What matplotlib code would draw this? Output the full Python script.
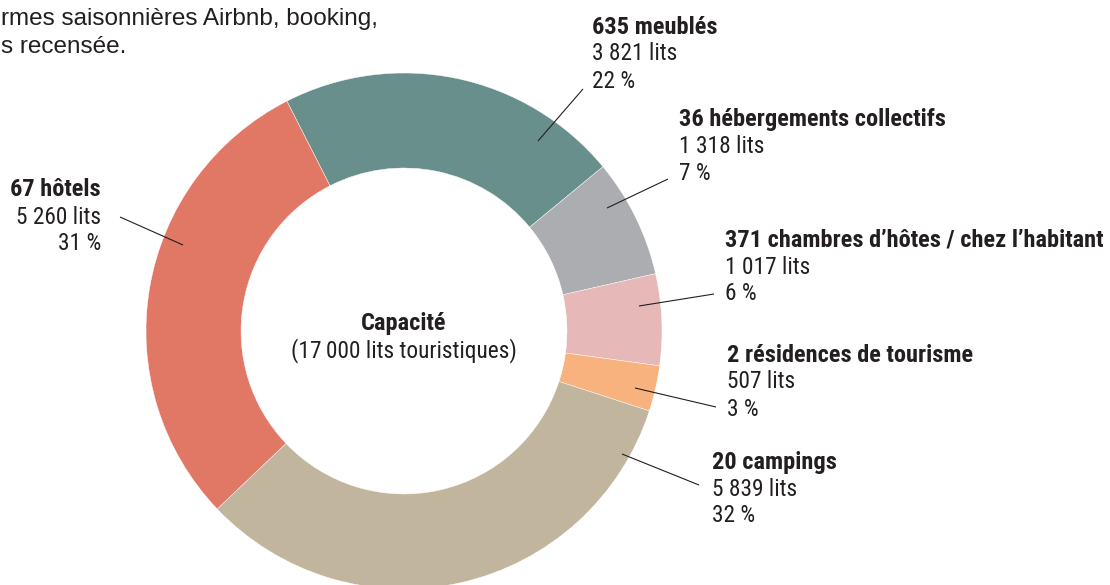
import matplotlib.pyplot as plt

# données
categories = ["635 meublés", "36 hébergements collectifs",
              "371 chambres d’hôtes / chez l’habitant",
              "2 résidences de tourisme", "20 campings", "67 hôtels"]
lits = [3821, 1318, 1017, 507, 5839, 5260]
lits_labels = ["3 821 lits", "1 318 lits", "1 017 lits", "507 lits", "5 839 lits", "5 260 lits"]
pct_labels = ["22 %", "7 %", "6 %", "3 %", "32 %", "31 %"]
colors = ["#688f8c", "#acadb0", "#e7b8b8", "#f8b27e", "#c2b59d", "#e17765"]

plt.rcParams['font.family'] = ['Roboto Condensed', 'DejaVu Sans']
TXT = "#231f20"
FS = 16.8      # texte normal
FSB = 17.6     # titres en gras

W, H = 1110, 585
fig = plt.figure(figsize=(W / 100, H / 100), dpi=100)
ax = fig.add_axes([0, 0, 1, 1])


def Y(y):
    # pixel (depuis le haut) -> coordonnée data
    return H - y


ax.pie(lits, colors=colors, startangle=117, counterclock=False,
       radius=258, center=(404, Y(331)),
       wedgeprops=dict(width=95, edgecolor='white', linewidth=0.3))
ax.set_aspect('equal')
ax.set_xlim(0, W)
ax.set_ylim(0, H)
ax.axis('off')

# positions des étiquettes (x, baseline ligne 1, alignement)
label_pos = [(592, 33.5, 'left'), (679, 126, 'left'), (725, 246.5, 'left'),
             (727, 361.5, 'left'), (712, 468.5, 'left'), (101, 196.5, 'right')]
leaders = [((538, 141), (583, 89)), ((607, 208), (668, 179)),
           ((639, 306), (714, 294)), ((635, 388), (716, 407)),
           ((622, 454), (699, 485)), ((183, 245), (120, 217))]
step = 27

for i, (x, yb, ha) in enumerate(label_pos):
    ax.text(x, Y(yb), categories[i], ha=ha, va='baseline', fontsize=FSB,
            fontweight='black', color=TXT)
    ax.text(x, Y(yb + step), lits_labels[i], ha=ha, va='baseline', fontsize=FS, color=TXT)
    ax.text(x, Y(yb + 2 * step), pct_labels[i], ha=ha, va='baseline', fontsize=FS, color=TXT)
    (x0, y0), (x1, y1) = leaders[i]
    ax.plot([x0, x1], [Y(y0), Y(y1)], color=TXT, lw=0.8, solid_capstyle='butt')

# centre
ax.text(404, Y(330), "Capacité", ha='center', va='baseline', fontsize=FSB,
        fontweight='black', color=TXT)
ax.text(404, Y(357), "(17\u2009000 lits touristiques)", ha='center', va='baseline',
        fontsize=FS, color=TXT)

# texte coupé en haut à gauche
top_font = ['Liberation Sans', 'DejaVu Sans']
ax.text(1, Y(25), "rmes saisonnières Airbnb, booking,", ha='left', va='baseline',
        fontsize=17.5, color=TXT, family=top_font)
ax.text(1, Y(53), "s recensée.", ha='left', va='baseline', fontsize=17.5,
        color=TXT, family=top_font)

fig.savefig("out.png", dpi=100)
